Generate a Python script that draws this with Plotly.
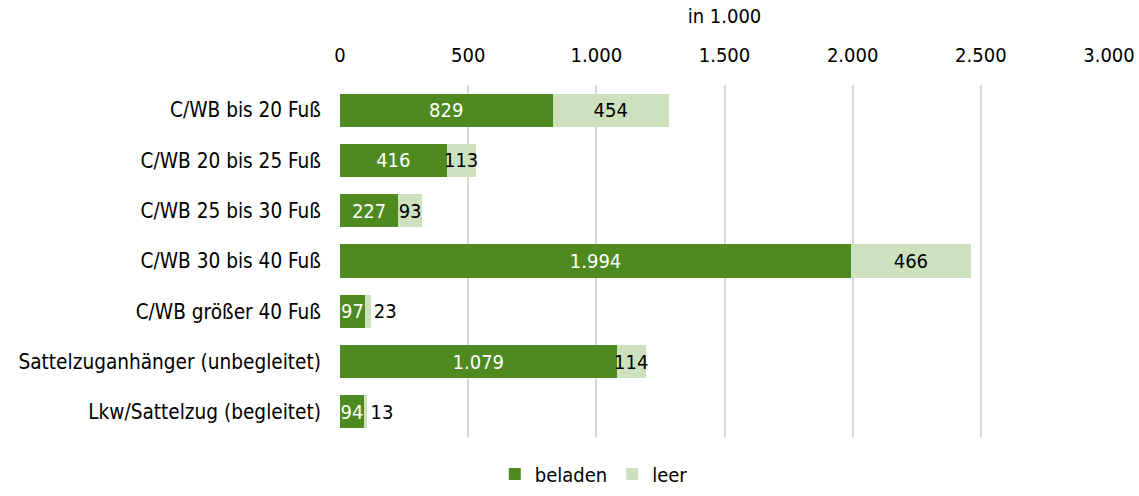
import plotly.graph_objects as go

categories = [
    "C/WB bis 20 Fuß",
    "C/WB 20 bis 25 Fuß",
    "C/WB 25 bis 30 Fuß",
    "C/WB 30 bis 40 Fuß",
    "C/WB größer 40 Fuß",
    "Sattelzuganhänger (unbegleitet)",
    "Lkw/Sattelzug (begleitet)",
]
beladen = [829, 416, 227, 1994, 97, 1079, 94]
leer = [454, 113, 93, 466, 23, 114, 13]
tick_vals = [0, 500, 1000, 1500, 2000, 2500, 3000]


def de_num(v):
    return f"{v:,}".replace(",", ".")


FONT = "DejaVu Sans Condensed, Roboto, sans-serif"
FS = 20
DARK = "#4e8a1f"
LIGHT = "#cde1bf"

leer_pos = ["inside" if v > 60 else "outside" for v in leer]

fig = go.Figure()
fig.add_trace(go.Bar(
    y=categories, x=beladen, orientation="h", name="beladen",
    marker=dict(color=DARK, line=dict(width=0)),
    text=[de_num(v) for v in beladen], textposition="inside",
    insidetextanchor="middle", constraintext="none", textangle=0,
    textfont=dict(color="white", size=FS, family=FONT),
))
fig.add_trace(go.Bar(
    y=categories, x=leer, orientation="h", name="leer",
    marker=dict(color=LIGHT, line=dict(width=0)),
    text=[de_num(v) for v in leer], textposition=leer_pos,
    insidetextanchor="middle", constraintext="none", textangle=0,
    insidetextfont=dict(color="black", size=FS, family=FONT),
    outsidetextfont=dict(color="black", size=FS, family=FONT),
    cliponaxis=False,
))

fig.update_layout(
    barmode="stack",
    bargap=0.34,
    width=1139, height=496,
    margin=dict(l=340, r=30, t=85, b=59, autoexpand=False),
    paper_bgcolor="white", plot_bgcolor="white",
    font=dict(family=FONT, size=FS, color="black"),
    showlegend=True,
    legend=dict(
        orientation="h", x=0.33, xanchor="center",
        yref="container", y=0.005, yanchor="bottom",
        font=dict(size=FS, family=FONT), traceorder="normal",
        itemwidth=30,
    ),
    xaxis=dict(
        side="top", range=[0, 3000], tickvals=tick_vals,
        ticktext=[de_num(v) for v in tick_vals],
        showgrid=True, gridcolor="#d9d9d9", gridwidth=2,
        zeroline=False, showline=False, ticks="",
        ticklabelstandoff=18,
        tickfont=dict(size=FS, family=FONT),
        title=dict(text="in 1.000", font=dict(size=FS, family=FONT), standoff=14),
    ),
    yaxis=dict(
        autorange="reversed", showgrid=False, zeroline=False, ticks="",
        ticklabelstandoff=18, tickfont=dict(size=20.6, family=FONT),
    ),
)

fig.write_html("out.html")
